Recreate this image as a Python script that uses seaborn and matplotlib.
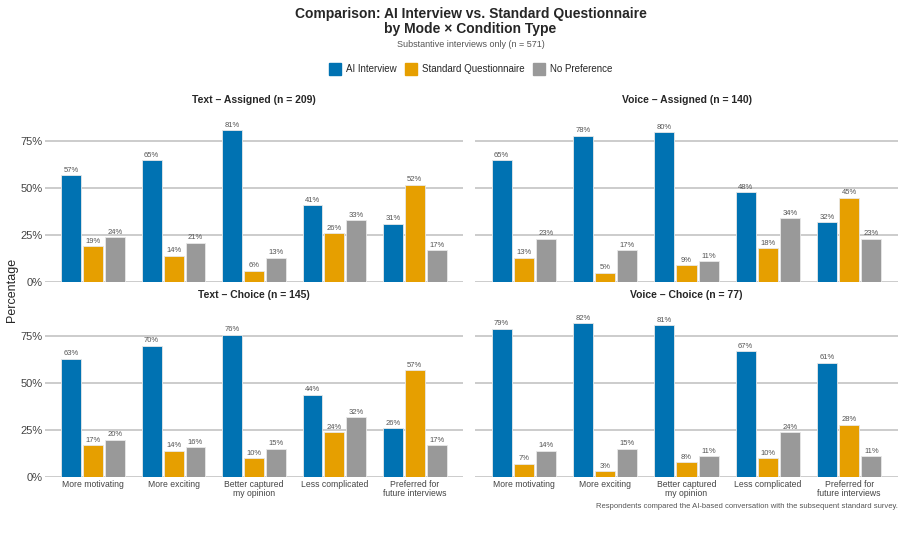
import matplotlib.pyplot as plt
import pandas as pd
import seaborn as sns

items = ["More motivating", "More exciting", "Better captured\nmy opinion",
         "Less complicated", "Preferred for\nfuture interviews"]
responses = ["AI Interview", "Standard Questionnaire", "No Preference"]
colors = ["#0072B2", "#E69F00", "#999999"]

panels = ["Text – Assigned (n = 209)", "Voice – Assigned (n = 140)",
          "Text – Choice (n = 145)", "Voice – Choice (n = 77)"]

text_assigned = {"AI Interview": [57, 65, 81, 41, 31],
                 "Standard Questionnaire": [19, 14, 6, 26, 52],
                 "No Preference": [24, 21, 13, 33, 17]}
voice_assigned = {"AI Interview": [65, 78, 80, 48, 32],
                  "Standard Questionnaire": [13, 5, 9, 18, 45],
                  "No Preference": [23, 17, 11, 34, 23]}
text_choice = {"AI Interview": [63, 70, 76, 44, 26],
               "Standard Questionnaire": [17, 14, 10, 24, 57],
               "No Preference": [20, 16, 15, 32, 17]}
voice_choice = {"AI Interview": [79, 82, 81, 67, 61],
                "Standard Questionnaire": [7, 3, 8, 10, 28],
                "No Preference": [14, 15, 11, 24, 11]}

panel_data = [text_assigned, voice_assigned, text_choice, voice_choice]


def to_frame(d):
    rows = []
    for r in responses:
        for it, v in zip(items, d[r]):
            rows.append({"item": it, "response": r, "pct": v})
    return pd.DataFrame(rows)


sns.set_theme(style="white")
plt.rcParams["font.family"] = ["Liberation Sans", "DejaVu Sans"]

fig = plt.figure(figsize=(9.05, 5.39), dpi=100)

# panel placement in pixels: (left, zero-line y), width, height
W, H = 905, 539
boxes = [(45, 282), (475, 282), (45, 477), (475, 477)]
widths = [418, 423, 418, 423]
ph = 165

for i, (title, d) in enumerate(zip(panels, panel_data)):
    x0, y0 = boxes[i]
    ax = fig.add_axes([x0 / W, (H - y0) / H, widths[i] / W, ph / H])
    df = to_frame(d)
    sns.barplot(data=df, x="item", y="pct", hue="response", order=items,
                hue_order=responses, palette=colors, saturation=1,
                width=0.82, gap=0.1, edgecolor="#e8e8e8", linewidth=0.6,
                ax=ax, legend=False)
    for cont in ax.containers:
        ax.bar_label(cont, fmt="%d%%", fontsize=5.5, color="#555555", padding=1)
    ax.set_ylim(0, 88)
    ax.set_xlim(-0.6, 4.6)
    ax.set_yticks([0, 25, 50, 75])
    ax.yaxis.grid(True, color="#c4c4c4", linewidth=1.2)
    ax.set_axisbelow(True)
    sns.despine(ax=ax, left=True, bottom=True)
    ax.tick_params(length=0, pad=2)
    ax.set_xlabel("")
    ax.set_ylabel("")
    ax.set_title(title, fontsize=7.5, fontweight="bold", pad=10)
    if i % 2 == 0:
        ax.set_yticks([0, 25, 50, 75], ["0%", "25%", "50%", "75%"],
                      fontsize=8, color="#444444")
    else:
        ax.set_yticklabels([])
    if i < 2:
        ax.set_xticklabels([])
    else:
        ax.set_xticks(range(5), items, fontsize=6.2, color="#444444",
                      linespacing=1.0)

handles = [plt.Rectangle((0, 0), 1, 1, color=c) for c in colors]
fig.legend(handles, responses, loc="center", bbox_to_anchor=(0.52, 0.872),
           ncol=3, frameon=False, fontsize=7, handlelength=1.3,
           handleheight=1.6, handletextpad=0.5, columnspacing=0.8)

fig.text(0.52, 0.96, "Comparison: AI Interview vs. Standard Questionnaire\nby Mode × Condition Type",
         ha="center", va="center", fontsize=10, fontweight="bold", linespacing=1.15)
fig.text(0.52, 0.918, "Substantive interviews only (n = 571)", ha="center",
         va="center", fontsize=6.5, color="#555555")
fig.text(12 / W, (H - 290) / H, "Percentage", rotation=90, ha="center",
         va="center", fontsize=9)
fig.text(898 / W, (H - 507) / H,
         "Respondents compared the AI-based conversation with the subsequent standard survey.",
         ha="right", va="center", fontsize=5.5, color="#555555")

fig.savefig("out.png", dpi=100)
